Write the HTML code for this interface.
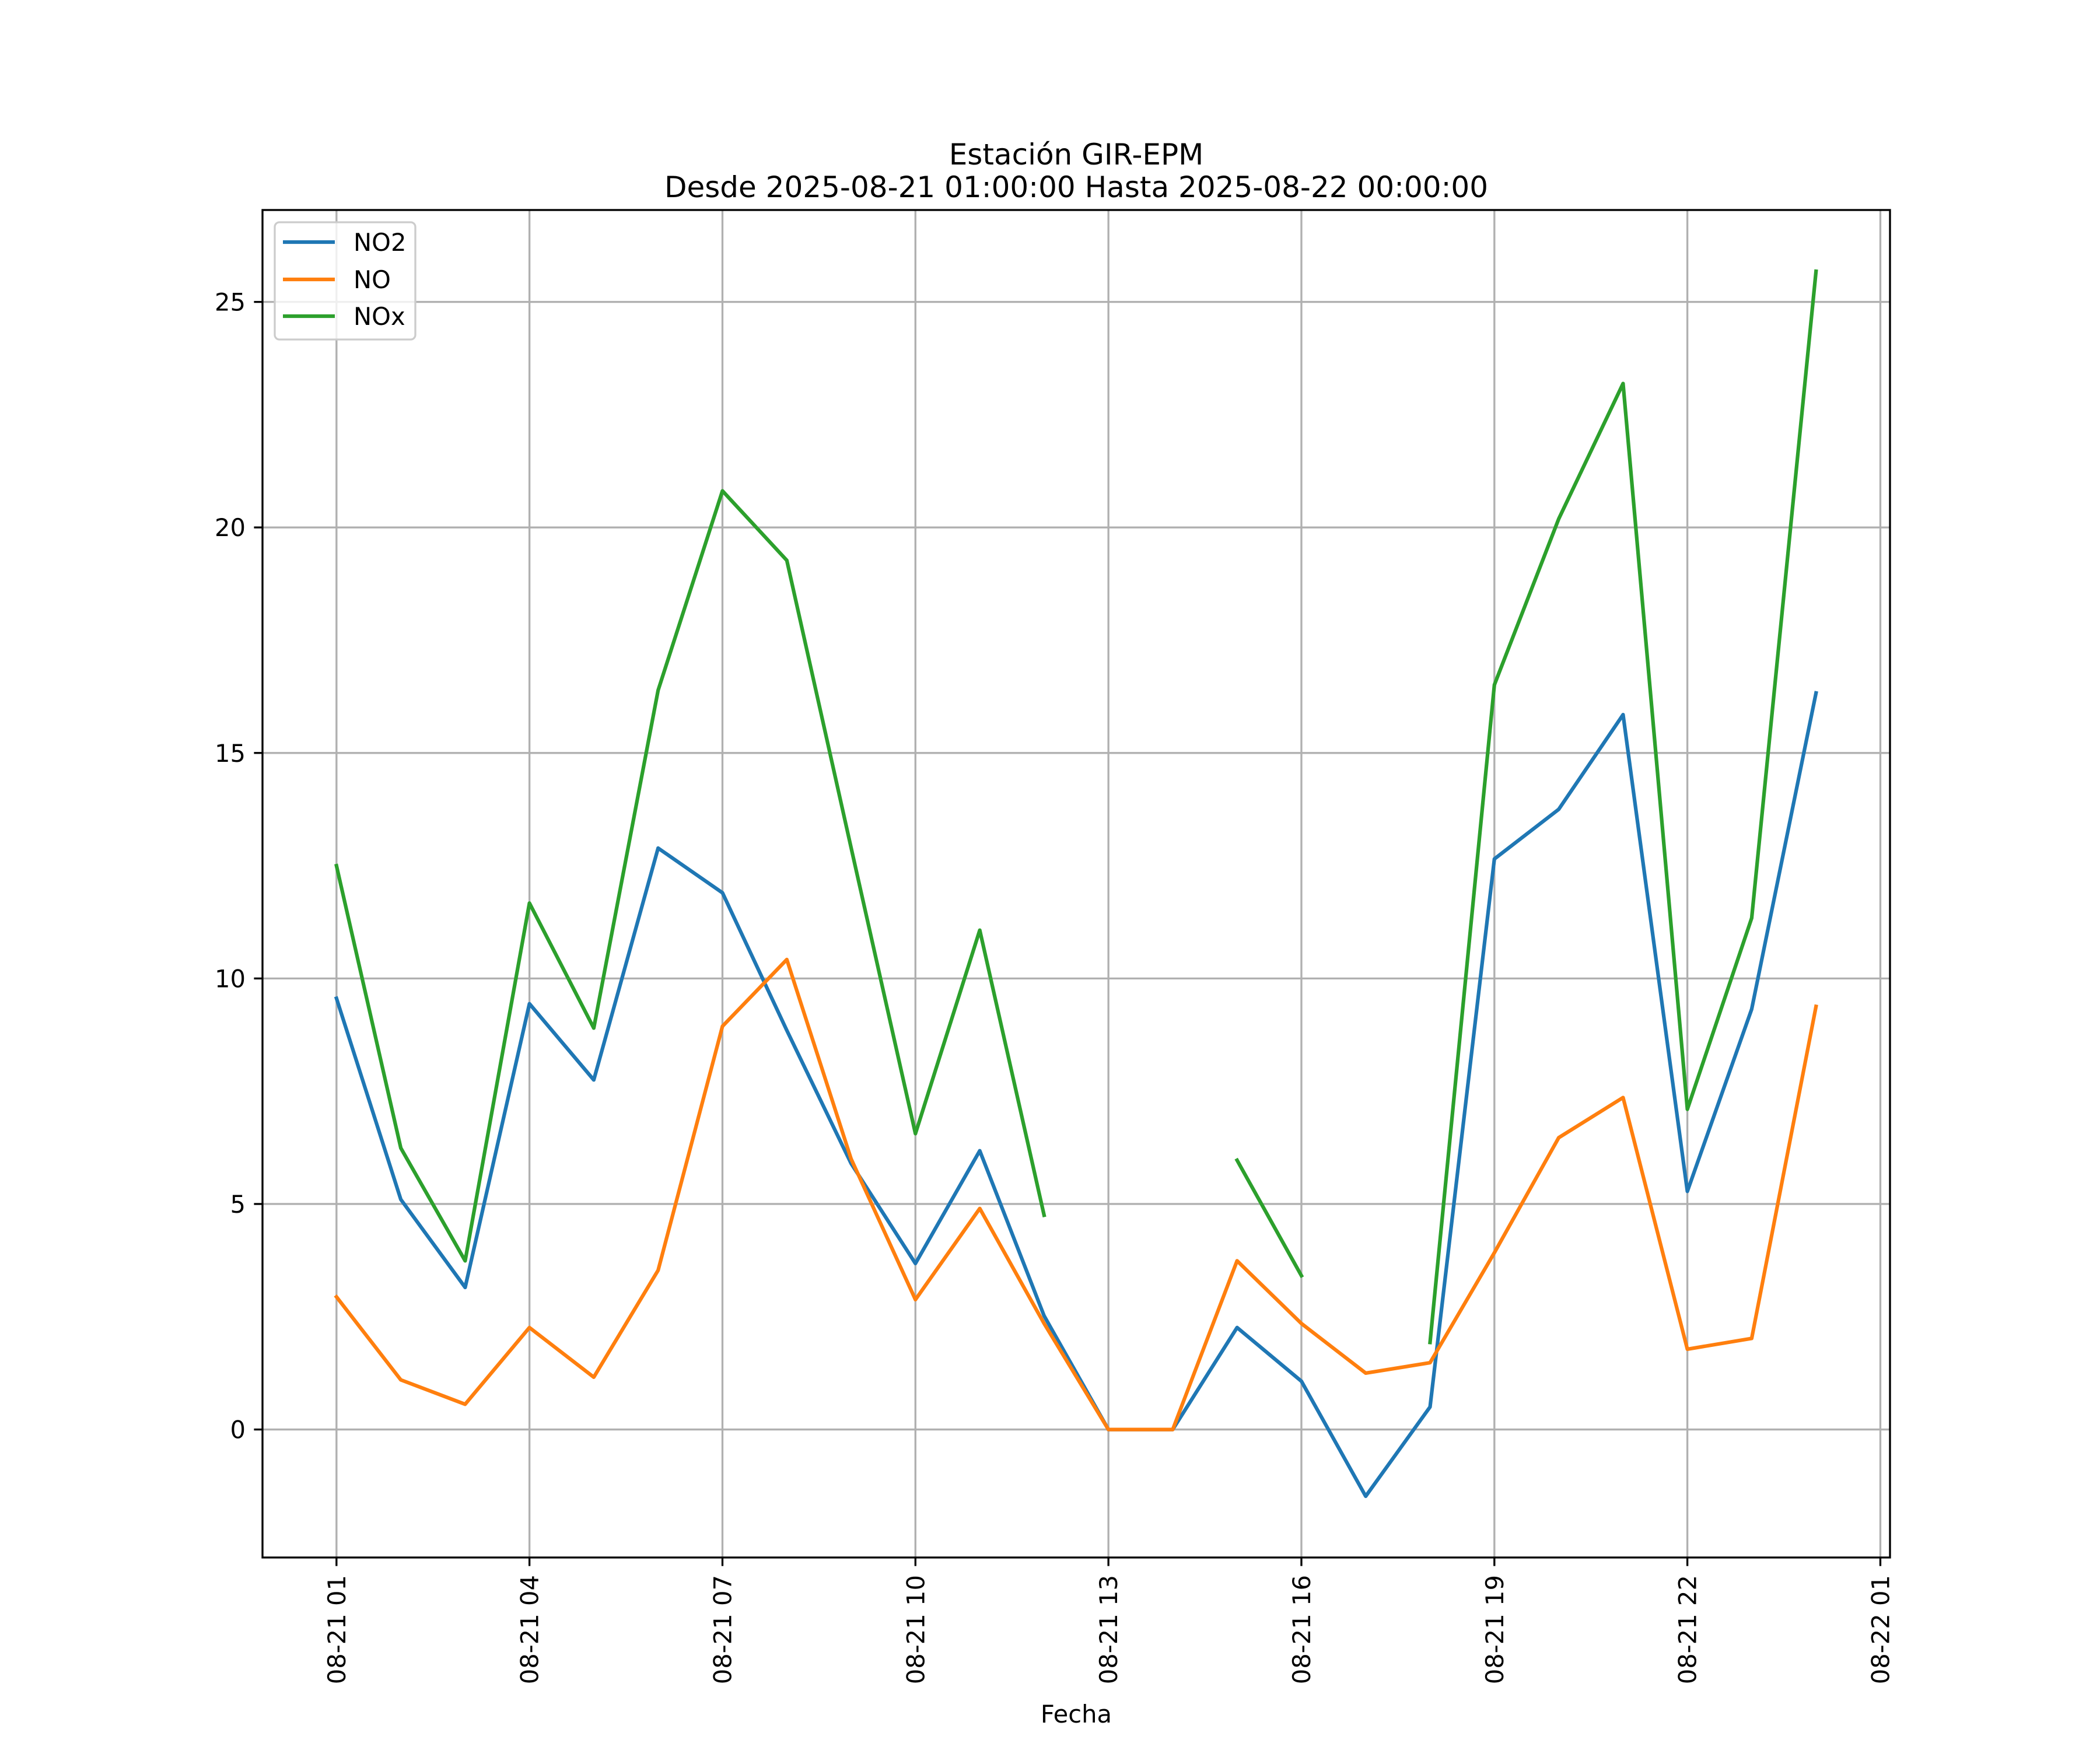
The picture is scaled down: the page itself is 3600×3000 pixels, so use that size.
<!DOCTYPE html>
<html><head><meta charset="utf-8"><style>
html,body{margin:0;padding:0;background:#fff;}
svg{display:block;font-family:"DejaVu Sans","Liberation Sans",sans-serif;}
</style></head><body>
<svg id="chart" width="3600" height="3000" viewBox="0 0 3600 3000" xmlns="http://www.w3.org/2000/svg">
<rect width="3600" height="3000" fill="#fff"/>
<text x="1845" y="282" font-size="50" text-anchor="middle">Estación GIR-EPM</text>
<text x="1845" y="338" font-size="50" text-anchor="middle">Desde 2025-08-21 01:00:00 Hasta 2025-08-22 00:00:00</text>
<g id="grid"></g>
<g id="series"></g>
<g id="axes"></g>
<text x="1845" y="2953" font-size="41.67" text-anchor="middle">Fecha</text>
<g>
<rect x="471" y="381" width="241" height="201" rx="8" fill="#fff" fill-opacity="0.8" stroke="#cccccc" stroke-width="3.3"/>
<line x1="485" y1="415" x2="574" y2="415" stroke="#1f77b4" stroke-width="6.25"/>
<text x="606" y="430" font-size="41.67">NO2</text>
<line x1="485" y1="479" x2="574" y2="479" stroke="#ff7f0e" stroke-width="6.25"/>
<text x="606" y="494" font-size="41.67">NO</text>
<line x1="485" y1="542" x2="574" y2="542" stroke="#2ca02c" stroke-width="6.25"/>
<text x="606" y="557" font-size="41.67">NOx</text>
</g>
</svg>
<script>
const hours = [1,2,3,4,5,6,7,8,9,10,11,12,13,14,15,16,17,18,19,20,21,22,23,24];
const no2 = [9.56,5.1,3.15,9.44,7.75,12.89,11.9,8.85,5.9,3.68,6.18,2.52,0,0,2.26,1.07,-1.48,0.5,12.65,13.75,15.85,5.28,9.32,16.33];
const no = [2.94,1.1,0.56,2.26,1.16,3.53,8.94,10.42,6.0,2.88,4.9,2.35,0,0,3.74,2.35,1.25,1.48,3.92,6.47,7.36,1.78,2.02,9.38];
const nox = [12.5,6.24,3.74,11.67,8.9,16.39,20.81,19.27,12.9,6.56,11.07,4.75,null,null,5.97,3.41,null,1.93,16.51,20.19,23.19,7.1,11.34,25.68];
const xTicks = [1,4,7,10,13,16,19,22,25];
const xTickLabels = ["08-21 01","08-21 04","08-21 07","08-21 10","08-21 13","08-21 16","08-21 19","08-21 22","08-22 01"];
const yTicks = [0,5,10,15,20,25];

const NS="http://www.w3.org/2000/svg";
const L=450,R=3240,T=360,B=2670;
const xmin=-0.15,xmax=25.15;
const all=[].concat(no2,no,nox).filter(v=>v!==null);
const dmin=Math.min(...all),dmax=Math.max(...all),m=(dmax-dmin)*0.05;
const ymin=dmin-m,ymax=dmax+m;
const X=h=>L+(h-xmin)/(xmax-xmin)*(R-L);
const Y=v=>B-(v-ymin)/(ymax-ymin)*(B-T);
function mk(tag,attrs,parent){const e=document.createElementNS(NS,tag);for(const k in attrs)e.setAttribute(k,attrs[k]);parent.appendChild(e);return e;}
const grid=document.getElementById('grid'),axes=document.getElementById('axes'),ser=document.getElementById('series');
xTicks.forEach((h,i)=>{
  const x=X(h);
  if(x<=R){const g=mk('line',{x1:x,y1:T,x2:x,y2:B,stroke:'#b0b0b0','stroke-width':3.33},grid);
  
  }
  const t=mk('line',{x1:x,y1:B,x2:x,y2:B+14.6,stroke:'#000','stroke-width':3.33},axes);
  
  
  const lb=mk('text',{x:0,y:0,'font-size':41.67,'text-anchor':'end',transform:`translate(${x+15},${B+30}) rotate(-90)`},axes);
  
  
  lb.textContent=xTickLabels[i];
});
yTicks.forEach(v=>{
  const y=Y(v);
  const g=mk('line',{x1:L,y1:y,x2:R,y2:y,stroke:'#b0b0b0','stroke-width':3.33},grid);
  
  
  const t=mk('line',{x1:L-14.6,y1:y,x2:L,y2:y,stroke:'#000','stroke-width':3.33},axes);
  
  
  const lb=mk('text',{x:L-29,y:y+15,'font-size':41.67,'text-anchor':'end'},axes);
  
  
  lb.textContent=String(v);
});
const frame=mk('rect',{x:L,y:T,width:R-L,height:B-T,fill:'none',stroke:'#000','stroke-width':3.33},axes);


function draw(vals,color,name){
  let d='',pen=false;
  vals.forEach((v,i)=>{
    if(v===null){pen=false;return;}
    d+=(pen?'L':'M')+X(hours[i]).toFixed(1)+' '+Y(v).toFixed(1)+' ';pen=true;
  });
  const p=mk('path',{d:d,fill:'none',stroke:color,'stroke-width':6.25,'stroke-linejoin':'round','stroke-linecap':'square'},ser);
  
  
}
draw(no2,'#1f77b4','no2-line');
draw(no,'#ff7f0e','no-line');
draw(nox,'#2ca02c','nox-line');
</script>
</body></html>
